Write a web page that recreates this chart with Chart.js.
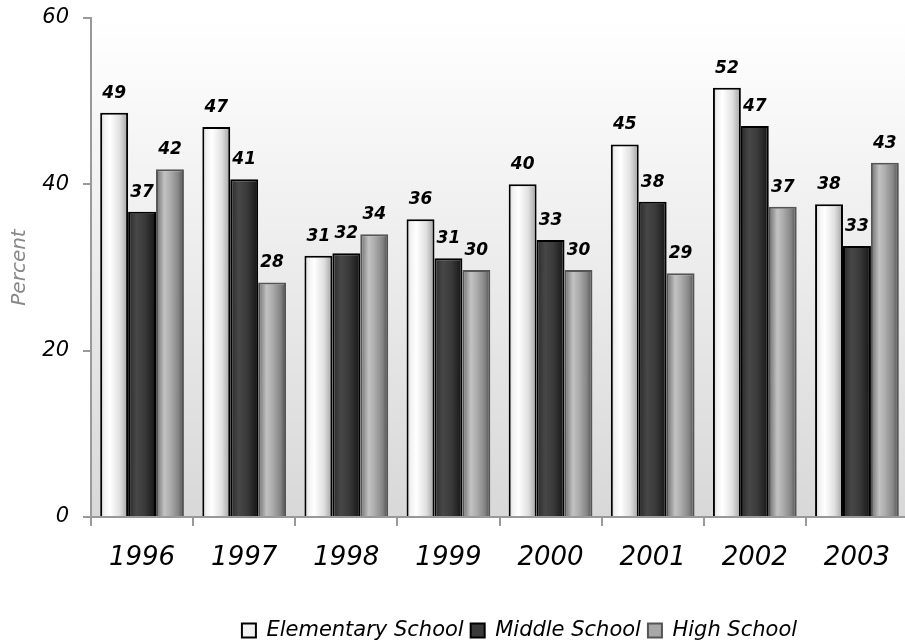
<!DOCTYPE html>
<html>
<head>
<meta charset="utf-8">
<script src="https://cdn.jsdelivr.net/npm/chart.js@4"></script>
<style>
  html, body { margin: 0; padding: 0; background: #fff; overflow: hidden; }
  #wrap { width: 915px; height: 642px; position: relative; }
</style>
</head>
<body>
<div id="wrap"><canvas id="c"></canvas></div>
<script>
const years = ['1996', '1997', '1998', '1999', '2000', '2001', '2002', '2003'];
const elementary = [48.6, 46.9, 31.4, 35.8, 40.0, 44.8, 51.6, 37.6];
const middle = [36.7, 40.6, 31.7, 31.1, 33.3, 37.9, 47.0, 32.6];
const high = [41.8, 28.2, 34.0, 29.7, 29.7, 29.3, 37.3, 42.6];
const seriesNames = ['Elementary School', 'Middle School', 'High School'];
const yTicks = [0, 20, 40, 60];

const FONT = "'DejaVu Sans', sans-serif";
const CAT_PCT = 0.82;

const stopsElem = [[0, '#d0d0d0'], [0.15, '#f2f2f2'], [0.35, '#ffffff'], [0.7, '#e0e0e0'], [1, '#a0a0a0']];
const stopsMid = [[0, '#2a2a2a'], [0.3, '#474747'], [0.6, '#3a3a3a'], [1, '#141414']];
const stopsHigh = [[0, '#6c6c6c'], [0.3, '#c2c2c2'], [0.5, '#aeaeae'], [0.8, '#858585'], [1, '#4c4c4c']];

function barGradient(stops) {
  return function (ctx) {
    const chart = ctx.chart;
    const ca = chart.chartArea;
    if (!ca || ctx.dataIndex === undefined || !chart.scales.x) return stops[1][1];
    const xs = chart.scales.x;
    const cat = xs.width / years.length;
    const group = cat * CAT_PCT;
    const bw = group / 3;
    const center = xs.getPixelForValue(ctx.dataIndex);
    const left = center - group / 2 + ctx.datasetIndex * bw;
    const g = chart.ctx.createLinearGradient(left, 0, left + bw, 0);
    stops.forEach(s => g.addColorStop(s[0], s[1]));
    return g;
  };
}

const bgPlugin = {
  id: 'plotBg',
  beforeDraw(chart) {
    const { ctx, chartArea: a } = chart;
    if (!a) return;
    const g = ctx.createLinearGradient(0, a.top, 0, a.bottom);
    g.addColorStop(0, '#ffffff');
    g.addColorStop(1, '#d8d8d8');
    ctx.save();
    ctx.fillStyle = g;
    ctx.fillRect(a.left, a.top, a.right - a.left, a.bottom - a.top);
    ctx.restore();
  }
};

const labelPlugin = {
  id: 'valueLabels',
  afterDatasetsDraw(chart) {
    const ctx = chart.ctx;
    ctx.save();
    ctx.font = "italic bold 17px " + FONT;
    ctx.fillStyle = '#000';
    ctx.textAlign = 'center';
    ctx.textBaseline = 'alphabetic';
    chart.data.datasets.forEach((ds, di) => {
      const meta = chart.getDatasetMeta(di);
      meta.data.forEach((el, i) => {
        ctx.fillText(String(Math.round(ds.data[i])), el.x, el.y - 15);
      });
    });
    ctx.restore();
  }
};

const legendShift = {
  id: 'legendShift',
  afterLayout(chart) {
    const dx = 20, dy = 11;
    chart.legend.left += dx;
    chart.legend.right += dx;
    chart.legend.top += dy;
    chart.legend.bottom += dy;
  }
};

const legendStyles = [
  { fill: '#f2f2f2', stroke: '#000' },
  { fill: '#3a3a3a', stroke: '#000' },
  { fill: '#a8a8a8', stroke: '#555' }
];

function noPad(s) { s.paddingTop = 0; s.paddingBottom = 0; s.paddingLeft = 0; s.paddingRight = 0; }

new Chart(document.getElementById('c'), {
  type: 'bar',
  data: {
    labels: years,
    datasets: [
      { label: seriesNames[0], data: elementary, backgroundColor: barGradient(stopsElem), borderColor: '#000', borderWidth: 2 },
      { label: seriesNames[1], data: middle, backgroundColor: barGradient(stopsMid), borderColor: '#000', borderWidth: 2 },
      { label: seriesNames[2], data: high, backgroundColor: barGradient(stopsHigh), borderColor: '#555', borderWidth: 2 }
    ]
  },
  options: {
    responsive: true,
    maintainAspectRatio: false,
    animation: false,
    datasets: { bar: { categoryPercentage: CAT_PCT, barPercentage: 1.0 } },
    layout: { padding: { left: 0, right: 7, top: 18, bottom: 2 } },
    plugins: {
      tooltip: { enabled: false },
      legend: {
        position: 'bottom',
        fullSize: false,
        labels: {
          color: '#000',
          font: { family: FONT, size: 21, style: 'italic' },
          boxWidth: 14,
          boxHeight: 14,
          padding: 7,
          generateLabels(chart) {
            return chart.data.datasets.map((ds, i) => ({
              text: ds.label,
              fillStyle: legendStyles[i].fill,
              strokeStyle: legendStyles[i].stroke,
              lineWidth: 2,
              fontColor: '#000',
              hidden: false,
              datasetIndex: i
            }));
          }
        }
      }
    },
    scales: {
      x: {
        grid: { display: true, drawOnChartArea: false, drawTicks: true, tickLength: 9, color: '#999', lineWidth: 2, offset: true },
        border: { display: true, color: '#999', width: 2 },
        ticks: { color: '#000', font: { family: FONT, size: 26, style: 'italic' }, padding: 17, maxRotation: 0 },
        afterFit(s) { s.height = 85; noPad(s); }
      },
      y: {
        min: 0,
        max: 60,
        afterBuildTicks(s) { s.ticks = yTicks.map(v => ({ value: v })); },
        grid: { display: true, drawOnChartArea: false, drawTicks: true, tickLength: 8, color: '#999', lineWidth: 2 },
        border: { display: true, color: '#999', width: 2 },
        ticks: { color: '#000', font: { family: FONT, size: 21, style: 'italic' }, padding: 14 },
        title: { display: true, text: 'Percent', color: '#888', font: { family: FONT, size: 20, style: 'italic' }, padding: { top: 8, bottom: 0 } },
        afterFit(s) { s.width = 91; noPad(s); }
      }
    }
  },
  plugins: [bgPlugin, labelPlugin, legendShift]
});
</script>
</body>
</html>
